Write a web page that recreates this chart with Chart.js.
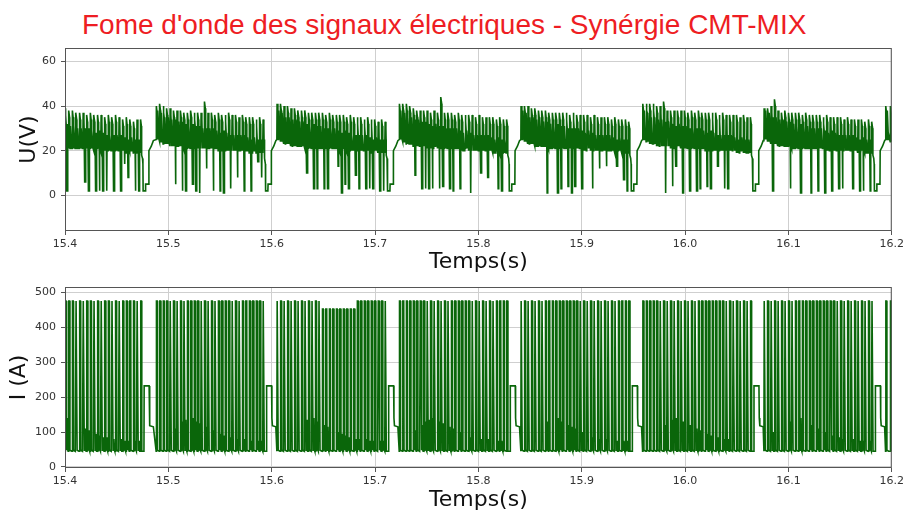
<!DOCTYPE html>
<html>
<head>
<meta charset="utf-8">
<script src="https://cdn.jsdelivr.net/npm/chart.js@4.4.0/dist/chart.umd.min.js"></script>
<style>
  body { margin: 0; background: #fff; width: 907px; height: 514px; position: relative; overflow: hidden; }
  #title { position: absolute; left: 82px; top: 11px; font-family: 'Liberation Sans', Arial, sans-serif;
           font-size: 28px; line-height: 28px; color: #ee1d23; white-space: nowrap; }
  canvas { position: absolute; left: 0; }
  #uChart { top: 0; }
  #iChart { top: 275px; }
</style>
</head>
<body>
<div id="title">Fome d'onde des signaux électriques - Synérgie CMT-MIX</div>
<canvas id="uChart" width="907" height="275"></canvas>
<canvas id="iChart" width="907" height="239"></canvas>
<script>
// Tick labels
const xTicks = [15.4, 15.5, 15.6, 15.7, 15.8, 15.9, 16.0, 16.1, 16.2];
const uTicks = [0, 20, 40, 60];
const iTicks = [0, 100, 200, 300, 400, 500];

// Pulse bursts (s): first and last pulse of each burst
const cycleStart = [15.4, 15.4882, 15.605, 15.7234, 15.8411, 15.9589, 16.0763, 16.194];
const cycleEnd   = [15.473, 15.5915, 15.7096, 15.8273, 15.9454, 16.0631, 16.1806, 16.1985];

// Voltage peak of every pulse (V)
const peakU = [
  [39, 38, 38, 37, 37, 37, 36, 37, 36, 36, 36, 35, 36, 35, 36, 35, 34, 35, 34, 33, 34, 34],
  [40, 41, 40, 39, 39, 38, 38, 38, 37, 37, 38, 37, 37, 37, 42, 37, 37, 36, 37, 36, 36, 37, 36, 36, 35, 36, 35, 35, 35, 34, 35, 34],
  [41, 41, 40, 40, 39, 39, 38, 38, 38, 37, 37, 37, 37, 37, 36, 37, 36, 36, 36, 36, 35, 36, 35, 35, 35, 34, 35, 34, 34, 33, 34, 33],
  [41, 41, 41, 40, 39, 38, 38, 38, 38, 37, 38, 37, 44, 37, 37, 37, 36, 37, 36, 36, 36, 36, 35, 36, 35, 35, 35, 35, 34, 35, 34, 34],
  [40, 40, 40, 39, 39, 38, 38, 38, 37, 37, 37, 37, 37, 37, 36, 37, 36, 36, 36, 36, 35, 36, 35, 35, 35, 35, 34, 35, 34, 34, 34, 33],
  [41, 41, 41, 41, 40, 40, 42, 38, 38, 38, 38, 38, 38, 37, 38, 37, 38, 37, 37, 37, 37, 37, 36, 37, 36, 36, 36, 36, 35, 36, 35, 35],
  [39, 39, 40, 43, 38, 37, 38, 37, 37, 37, 37, 36, 37, 36, 36, 36, 36, 35, 36, 35, 35, 35, 35, 34, 35, 34, 34, 34, 34, 33, 34, 33],
  [40, 40]
];

// Voltage between pulses, by pulse number in a burst (V)
const baseU = [25, 24, 23, 23, 22, 22, 22, 22, 21, 21, 22, 21, 21, 21, 21, 21,
               21, 21, 20, 21, 20, 20, 20, 20, 20, 20, 20, 19, 20, 19, 19, 19];
// Arc voltage swing after each pulse, by pulse number (V above base)
const swingU = [13, 13, 12, 12, 12, 12, 11, 11, 11, 10, 10, 10, 10, 9, 9, 9,
                9, 8, 8, 8, 8, 7, 7, 7, 7, 7, 6, 6, 6, 6, 6, 6];

// Short circuits after a pulse: [pulse number, lowest voltage]
const dipU = [
  [[0, 2], [5, 6], [6, 2], [8, 2], [9, 2], [10, 2], [11, 2], [13, 2], [15, 2], [16, 14], [17, 8], [19, 2], [20, 2], [21, 3]],
  [[5, 5], [7, 2], [8, 2], [10, 5], [11, 2], [12, 1], [14, 12], [16, 2], [18, 2], [19, 1], [21, 3], [23, 8], [25, 2], [27, 2], [29, 15], [30, 8]],
  [[8, 10], [10, 3], [11, 3], [13, 3], [14, 3], [17, 13], [18, 1], [19, 5], [20, 3], [22, 9], [23, 3], [25, 3], [26, 3], [27, 3], [29, 2], [30, 2]],
  [[4, 9], [6, 3], [7, 3], [8, 3], [9, 3], [11, 3], [12, 4], [14, 3], [15, 2], [17, 3], [20, 1], [23, 10], [25, 8], [28, 3], [29, 2], [31, 4]],
  [[7, 1], [10, 1], [11, 3], [13, 4], [14, 1], [15, 4], [17, 3], [20, 3], [22, 12], [24, 13], [27, 13], [29, 7], [30, 2]],
  [[6, 1], [8, 4], [9, 13], [11, 1], [13, 2], [15, 2], [16, 3], [18, 4], [19, 3], [21, 13], [23, 3], [24, 3], [31, 9]],
  [[2, 2], [7, 3], [10, 1], [13, 1], [15, 2], [17, 1], [19, 2], [21, 3], [22, 3], [25, 3], [27, 2], [28, 2], [30, 2]],
  []
];

// Current: pulse peak per burst (A), reduced pulses [burst, from, to, value], base and short-circuit current
const peakI = [475, 475, 475, 475, 475, 475, 475, 475];
const reducedI = [2, 13, 22, 452];
const baseI = 45;
const shortI = [90, 95, 100, 100, 105, 110, 120, 130, 135, 140, 140, 130, 125, 120, 115, 110,
                105, 100, 95, 90, 85, 85, 80, 80, 80, 80, 75, 75, 75, 75, 75, 75];

// Pause between bursts, time after last pulse (s)
const gapDtU = [0.0012, 0.0020, 0.0024, 0.0026, 0.0048, 0.0050, 0.0080, 0.0082, 0.0105, 0.0125];
const gapU   = [18, 16.5, 14, 2, 2, 5, 5, 20, 22, 24.5];
const gapDtI = [0.0013, 0.0034, 0.0036, 0.0084, 0.0087, 0.0092, 0.0125];
const gapI   = [45, 45, 232, 232, 140, 118, 115];

function buildSeries(kind) {
  const pts = [];
  const add = (x, y) => pts.push({ x, y });
  for (let c = 0; c < cycleStart.length; c++) {
    const n = peakU[c].length;
    const T = (cycleEnd[c] - cycleStart[c]) / (n - 1);
    const off = c === 0 ? baseU.length - n : 0;
    const dips = new Map(dipU[c]);
    const last = c < cycleStart.length - 1;
    for (let k = 0; k < n; k++) {
      const t0 = cycleStart[c] + k * T;
      const end = last && k === n - 1;
      if (kind === 'U') {
        const b = baseU[k + off];
        const s = swingU[k + off];
        const p = peakU[c][k];
        add(t0, b); add(t0 + 0.0002, p); add(t0 + 0.0009, p - 3); add(t0 + 0.0011, b + s);
        if (end) continue;
        add(t0 + 0.0014, b); add(t0 + 0.0017, b + s);
        if (dips.has(k)) {
          const d = dips.get(k);
          add(t0 + 0.0019, d); add(t0 + 0.0024, d); add(t0 + 0.0025, b + s);
        }
        add(t0 + 0.0028, b); add(t0 + 0.0031, b + 2);
      } else {
        let p = peakI[c];
        if (c === reducedI[0] && k >= reducedI[1] && k <= reducedI[2]) p = reducedI[3];
        add(t0, baseI); add(t0 + 0.0003, p); add(t0 + 0.0010, p); add(t0 + 0.0013, baseI + 3);
        if (end) continue;
        if (dips.has(k)) {
          add(t0 + 0.0018, baseI + 5); add(t0 + 0.0022, shortI[k + off]); add(t0 + 0.0025, baseI + 5);
        }
        add(t0 + 0.0030, baseI);
      }
    }
    if (last) {
      const E = cycleEnd[c];
      const dt = kind === 'U' ? gapDtU : gapDtI;
      const v = kind === 'U' ? gapU : gapI;
      dt.forEach((d, i) => add(E + d, v[i]));
    }
  }
  return pts;
}

const frame = {
  id: 'frame',
  afterDraw(chart) {
    const { ctx, chartArea: a } = chart;
    ctx.save();
    ctx.strokeStyle = '#555';
    ctx.lineWidth = 1;
    ctx.strokeRect(a.left + 0.5, a.top + 0.5, a.right - a.left - 1, a.bottom - a.top - 1);
    ctx.restore();
  }
};

const tickFont = { family: 'DejaVu Sans', size: 11 };
const titleFont = { family: 'DejaVu Sans', size: 22 };

function makeChart(id, data, yMin, yMax, yTicks, yTitle, padTop, xHeight, yTitlePad, xTitlePad) {
  return new Chart(document.getElementById(id), {
    type: 'line',
    data: {
      datasets: [{
        data: data,
        borderColor: '#0a660a',
        borderWidth: 1.6,
        pointRadius: 0,
        tension: 0,
        fill: false
      }]
    },
    options: {
      responsive: false,
      animation: false,
      parsing: false,
      normalized: true,
      layout: { padding: { top: padTop, right: 11, bottom: 0, left: 0 } },
      plugins: { legend: { display: false }, tooltip: { enabled: false } },
      scales: {
        x: {
          type: 'linear',
          min: 15.4,
          max: 16.2,
          afterBuildTicks: axis => { axis.ticks = xTicks.map(v => ({ value: v })); },
          afterFit: axis => { axis.height = xHeight; },
          ticks: { font: tickFont, color: '#333', padding: 3, maxRotation: 0,
                   callback: v => v.toFixed(1) },
          grid: { color: '#cfcfcf', tickColor: '#555', tickLength: 4 },
          border: { display: false },
          title: { display: true, text: 'Temps(s)', font: titleFont, color: '#111',
                   padding: { top: 0, bottom: xTitlePad } }
        },
        y: {
          min: yMin,
          max: yMax,
          afterBuildTicks: axis => { axis.ticks = yTicks.map(v => ({ value: v })); },
          afterFit: axis => { axis.width = 65; },
          ticks: { font: tickFont, color: '#333', padding: 5 },
          grid: { color: '#cfcfcf', tickColor: '#555', tickLength: 4 },
          border: { display: false },
          title: { display: true, text: yTitle, font: titleFont, color: '#111',
                   padding: { top: yTitlePad, bottom: 0 } }
        }
      }
    },
    plugins: [frame]
  });
}

makeChart('uChart', buildSeries('U'), -16, 66, uTicks, 'U(V)', 48, 44, 16, 0);
makeChart('iChart', buildSeries('I'), -3, 515, iTicks, 'I (A)', 12, 46, 6, 1);
</script>
</body>
</html>
